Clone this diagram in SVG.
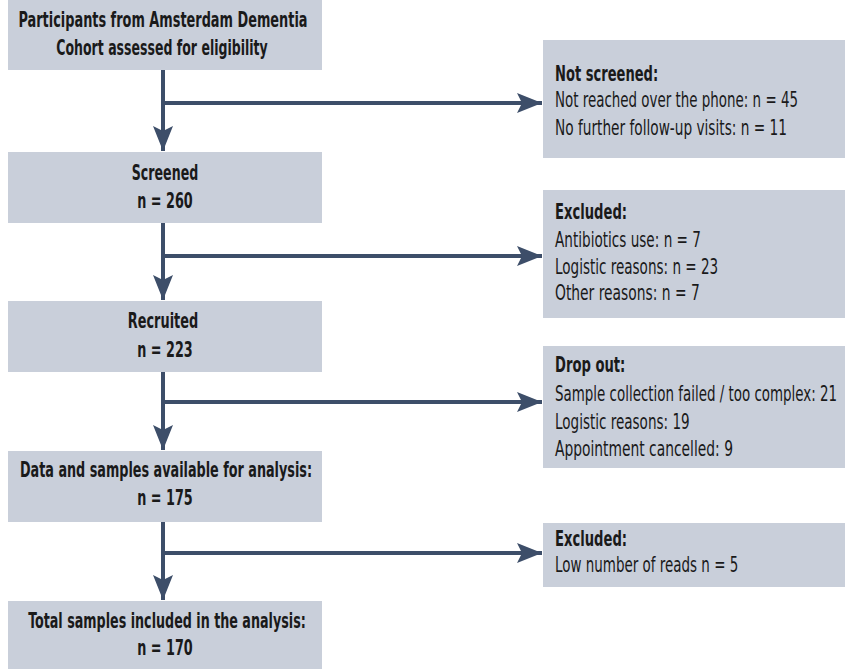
<svg xmlns="http://www.w3.org/2000/svg" width="845" height="669" viewBox="0 0 845 669">
  <style>
    .box { fill: #c9cfda; }
    .flow { fill: none; stroke: #3d4e69; stroke-width: 4; }
    text { font-family: "Liberation Sans Narrow", "DejaVu Sans Condensed", "Liberation Sans", sans-serif; font-size: 20.5px; fill: #1a1a1a; }
    .b { font-weight: bold; }
    .c { text-anchor: middle; }
  </style>
  <defs>
    <marker id="head" markerUnits="userSpaceOnUse" markerWidth="26" markerHeight="22" viewBox="-25 -11 26 22" refX="0" refY="0" orient="auto">
      <path d="M0,0 L-25,-10 L-20,0 L-25,10 Z" fill="#3d4e69"/>
    </marker>
  </defs>

  <!-- main flow boxes (text narrowed horizontally to a condensed face) -->
  <g id="assessed">
    <rect class="box" x="8" y="0" width="314" height="70"/>
    <text class="b c" transform="translate(163,27) scale(0.699,1)">Participants from Amsterdam Dementia</text>
    <text class="b c" transform="translate(162,55) scale(0.68,1)">Cohort assessed for eligibility</text>
  </g>
  <g id="screened">
    <rect class="box" x="8" y="152" width="314" height="71"/>
    <text class="b c" transform="translate(165,180) scale(0.685,1)">Screened</text>
    <text class="b c" transform="translate(165,208) scale(0.694,1)">n = 260</text>
  </g>
  <g id="recruited">
    <rect class="box" x="8" y="301" width="314" height="71"/>
    <text class="b c" transform="translate(163,328) scale(0.699,1)">Recruited</text>
    <text class="b c" transform="translate(165,357) scale(0.694,1)">n = 223</text>
  </g>
  <g id="available">
    <rect class="box" x="8" y="451" width="314" height="71"/>
    <text class="b c" transform="translate(166,477) scale(0.694,1)">Data and samples available for analysis:</text>
    <text class="b c" transform="translate(165,505) scale(0.694,1)">n = 175</text>
  </g>
  <g id="included">
    <rect class="box" x="8" y="601" width="314" height="68"/>
    <text class="b c" transform="translate(167,628) scale(0.69,1)">Total samples included in the analysis:</text>
    <text class="b c" transform="translate(165,655) scale(0.694,1)">n = 170</text>
  </g>

  <!-- side boxes -->
  <g id="not-screened">
    <rect class="box" x="543" y="40" width="302" height="118"/>
    <text class="b" transform="translate(555,81) scale(0.709,1)">Not screened:</text>
    <text transform="translate(555,107) scale(0.728,1)">Not reached over the phone: n = 45</text>
    <text transform="translate(555,135) scale(0.742,1)">No further follow-up visits: n = 11</text>
  </g>
  <g id="excluded-1">
    <rect class="box" x="543" y="190" width="302" height="128"/>
    <text class="b" transform="translate(555,219) scale(0.713,1)">Excluded:</text>
    <text transform="translate(555,247) scale(0.737,1)">Antibiotics use: n = 7</text>
    <text transform="translate(555,274) scale(0.734,1)">Logistic reasons: n = 23</text>
    <text transform="translate(555,300) scale(0.751,1)">Other reasons: n = 7</text>
  </g>
  <g id="drop-out">
    <rect class="box" x="543" y="346" width="302" height="122"/>
    <text class="b" transform="translate(555,372) scale(0.713,1)">Drop out:</text>
    <text transform="translate(555,401) scale(0.728,1)">Sample collection failed / too complex: 21</text>
    <text transform="translate(555,429) scale(0.734,1)">Logistic reasons: 19</text>
    <text transform="translate(555,456) scale(0.751,1)">Appointment cancelled: 9</text>
  </g>
  <g id="excluded-2">
    <rect class="box" x="543" y="523" width="302" height="64"/>
    <text class="b" transform="translate(555,546) scale(0.713,1)">Excluded:</text>
    <text transform="translate(555,572) scale(0.73,1)">Low number of reads n = 5</text>
  </g>

  <!-- connectors -->
  <g id="connectors">
    <path class="flow" d="M163,70 V151" marker-end="url(#head)"/>
    <path class="flow" d="M163,103 H542" marker-end="url(#head)"/>
    <path class="flow" d="M163,223 V300" marker-end="url(#head)"/>
    <path class="flow" d="M163,256 H542" marker-end="url(#head)"/>
    <path class="flow" d="M163,372 V450" marker-end="url(#head)"/>
    <path class="flow" d="M163,402 H542" marker-end="url(#head)"/>
    <path class="flow" d="M163,522 V600" marker-end="url(#head)"/>
    <path class="flow" d="M163,553 H542" marker-end="url(#head)"/>
  </g>
</svg>
